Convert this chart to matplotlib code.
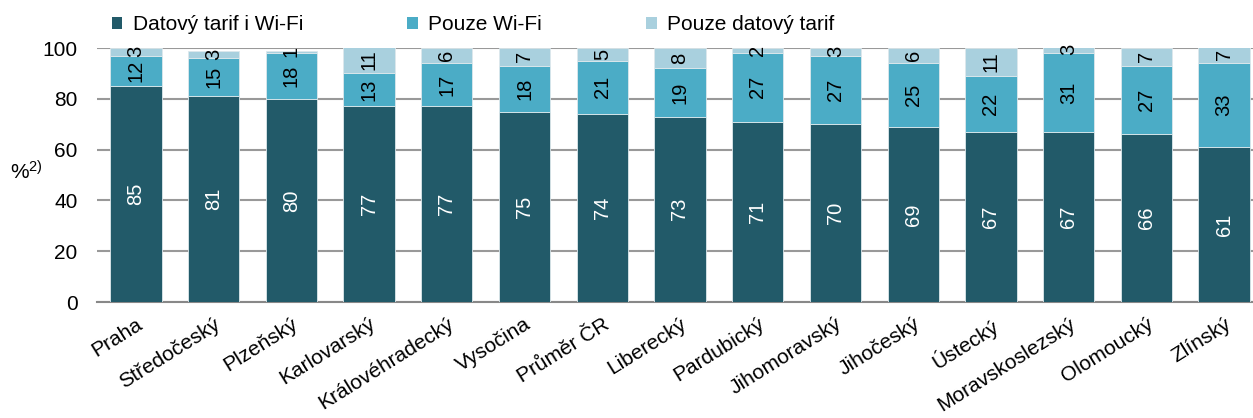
import numpy as np
import matplotlib
matplotlib.use("Agg")
import matplotlib.pyplot as plt
from matplotlib.patches import Patch

plt.rcParams['font.family'] = ['Liberation Sans', 'DejaVu Sans']
plt.rcParams['mathtext.default'] = 'regular'

# data
kraje = ['Praha', 'Středočeský', 'Plzeňský', 'Karlovarský', 'Královéhradecký',
         'Vysočina', 'Průměr ČR', 'Liberecký', 'Pardubický', 'Jihomoravský',
         'Jihočeský', 'Ústecký', 'Moravskoslezský', 'Olomoucký', 'Zlínský']
tarif_i_wifi = [85, 81, 80, 77, 77, 75, 74, 73, 71, 70, 69, 67, 67, 66, 61]
pouze_wifi = [12, 15, 18, 13, 17, 18, 21, 19, 27, 27, 25, 22, 31, 27, 33]
pouze_tarif = [3, 3, 1, 11, 6, 7, 5, 8, 2, 3, 6, 11, 3, 7, 7]
serie_nazvy = ['Datový tarif i Wi-Fi', 'Pouze Wi-Fi', 'Pouze datový tarif']

barvy = ['#225a69', '#4bacc6', '#a9d0de']
barvy_textu = ['white', 'black', 'black']

fig = plt.figure(figsize=(12.53, 4.18), dpi=100)
ax = fig.add_axes([97 / 1253, 1 - 302 / 418, (1263 - 97) / 1253, 254 / 418])

x = np.arange(len(kraje))
spodek = np.zeros(len(kraje))
for hodnoty, barva, tc in zip([tarif_i_wifi, pouze_wifi, pouze_tarif], barvy, barvy_textu):
    hodnoty = np.array(hodnoty, dtype=float)
    ax.bar(x, hodnoty, 0.66, bottom=spodek, color=barva, edgecolor='#dde8ec',
           linewidth=0.6, zorder=3)
    for xi, b, h in zip(x, spodek, hodnoty):
        ax.text(xi, b + h / 2, f'{int(h)}', rotation=90, ha='center', va='center',
                color=tc, fontsize=14.5, zorder=4, clip_on=False)
    spodek += hodnoty

ax.set_xlim(-0.5, len(kraje) - 0.5)
ax.set_ylim(0, 100)
ax.set_yticks([0, 20, 40, 60, 80, 100])
ax.yaxis.grid(True, color='#999999', linewidth=1.5, zorder=0)
ax.set_axisbelow(True)
for s in ['top', 'right', 'left']:
    ax.spines[s].set_visible(False)
ax.spines['bottom'].set_color('#888888')
ax.spines['bottom'].set_linewidth(1.5)
ax.tick_params(axis='y', length=0, pad=14, labelsize=15)
ax.tick_params(axis='x', length=0, pad=9, labelsize=15)
ax.set_xticks(x)
ax.set_xticklabels(kraje, rotation=32, ha='right', rotation_mode='anchor')

fig.text(10 / 1253, 1 - 172 / 418, '%$^{2)}$', fontsize=15, va='center', ha='left')

handles = [Patch(facecolor=c, edgecolor='none') for c in barvy]
fig.legend(handles, serie_nazvy, loc='center left', bbox_to_anchor=(112 / 1253, 1 - 25 / 418),
           ncol=3, frameon=False, fontsize=15, handlelength=0.5, handleheight=0.5,
           handletextpad=0.5, columnspacing=5.0, borderaxespad=0, borderpad=0)

fig.savefig('out.png', dpi=100)
